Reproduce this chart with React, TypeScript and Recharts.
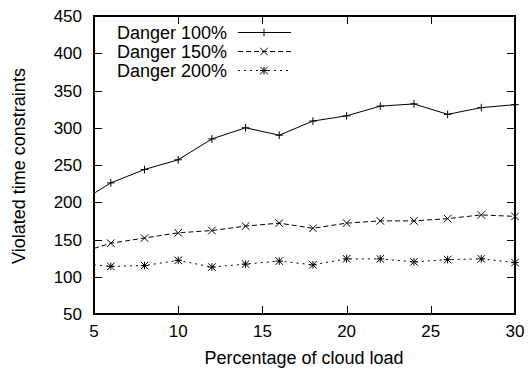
import { LineChart, Line, XAxis, YAxis } from 'recharts';

const loads = [5, 6, 8, 10, 12, 14, 16, 18, 20, 22, 24, 26, 28, 30];
const danger100 = [212, 226, 244, 257, 285, 300, 290, 309, 316, 329, 332, 318, 327, 331];
const danger150 = [138, 145, 152, 159, 162, 168, 172, 165, 172, 175, 175, 178, 183, 181];
const danger200 = [116, 114, 115, 122, 113, 117, 121, 116, 124, 124, 120, 123, 124, 119];

const xTicks = [5, 10, 15, 20, 25, 30];
const yTicks = [50, 100, 150, 200, 250, 300, 350, 400, 450];

const seriesNames = ['Danger 100%', 'Danger 150%', 'Danger 200%'];
const xTitle = 'Percentage of cloud load';
const yTitle = 'Violated time constraints';

const data = loads.map((x, i) => ({
  x,
  d100: danger100[i],
  d150: danger150[i],
  d200: danger200[i],
}));

const X_MIN = 5, X_MAX = 30, Y_MIN = 50, Y_MAX = 450;

// plot box (shared by chart margins and the frame overlay)
const W = 528, H = 370;
const PL = 94, PR = 515, PT = 16, PB = 314;
const TICK = 8;

const FONT = '"Liberation Sans", Arial, Helvetica, sans-serif';
const S = 3.8;

function markerPath(shape: string, cx: number, cy: number) {
  const plus = `M${cx - S},${cy}H${cx + S}M${cx},${cy - S}V${cy + S}`;
  const cross = `M${cx - S},${cy - S}L${cx + S},${cy + S}M${cx - S},${cy + S}L${cx + S},${cy - S}`;
  if (shape === 'plus') return plus;
  if (shape === 'cross') return cross;
  return plus + cross;
}

const makeDot = (shape: string) => (props: any) => {
  const { cx, cy, index, payload } = props;
  if (payload.x === X_MIN || cx == null || cy == null) return <g key={`${shape}-${index}`} />;
  return (
    <path key={`${shape}-${index}`} d={markerPath(shape, cx, cy)} stroke="#000" strokeWidth={1} fill="none" />
  );
};

const styles = [
  { shape: 'plus', dash: undefined as string | undefined },
  { shape: 'cross', dash: '5 3' },
  { shape: 'star', dash: '2 4' },
];

const sx = (v: number) => PL + ((v - X_MIN) / (X_MAX - X_MIN)) * (PR - PL);
const sy = (v: number) => PB - ((v - Y_MIN) / (Y_MAX - Y_MIN)) * (PB - PT);

function Overlay() {
  const baselines = [39, 58, 77];
  const frame = [
    [PL, PT, PR, PT],
    [PR, PT, PR, PB],
    [PL, PB, PR, PB],
    [PL, PT, PL, PB],
  ];
  const tickSegs: number[][] = [];
  xTicks.slice(1, -1).forEach(t => {
    const x = Math.round(sx(t)) + 0.5;
    tickSegs.push([x, PB, x, PB - TICK], [x, PT, x, PT + TICK]);
  });
  yTicks.slice(1, -1).forEach(t => {
    const y = Math.round(sy(t)) + 0.5;
    tickSegs.push([PL, y, PL + TICK, y], [PR, y, PR - TICK, y]);
  });
  return (
    <svg width={W} height={H} style={{ position: 'absolute', left: 0, top: 0, pointerEvents: 'none' }}>
      {frame.map(([x1, y1, x2, y2], i) => (
        <line key={`f${i}`} x1={x1} y1={y1} x2={x2} y2={y2} stroke="#000" strokeWidth={2} strokeLinecap="square" />
      ))}
      {tickSegs.map(([x1, y1, x2, y2], i) => (
        <line key={`t${i}`} x1={x1} y1={y1} x2={x2} y2={y2} stroke="#000" strokeWidth={1} />
      ))}
      <text x={304} y={364} textAnchor="middle" fontSize={18} fontFamily={FONT} fill="#000">
        {xTitle}
      </text>
      <text transform="translate(25,166) rotate(-90)" textAnchor="middle" fontSize={18} fontFamily={FONT} fill="#000">
        {yTitle}
      </text>
      {seriesNames.map((name, i) => {
        const y = baselines[i] - 6.5;
        return (
          <g key={name}>
            <text x={227} y={baselines[i]} textAnchor="end" fontSize={18} fontFamily={FONT} fill="#000">
              {name}
            </text>
            <line x1={238} x2={291} y1={y} y2={y} stroke="#000" strokeWidth={1} strokeDasharray={styles[i].dash} />
            <path d={markerPath(styles[i].shape, 264, y)} stroke="#000" strokeWidth={1} fill="none" />
          </g>
        );
      })}
    </svg>
  );
}

export default function App() {
  const tickStyle = { fill: '#000', fontSize: 17, fontFamily: FONT };
  return (
    <div style={{ position: 'fixed', left: 0, top: 0, width: W, height: H, background: '#fff' }}>
      <LineChart width={W} height={H} data={data} margin={{ top: PT, right: W - PR, bottom: 0, left: 0 }}>
        <XAxis
          dataKey="x"
          type="number"
          domain={[X_MIN, X_MAX]}
          ticks={xTicks}
          height={H - PB}
          tickSize={0}
          tickMargin={11}
          stroke="#000"
          tickLine={false}
          tick={tickStyle}
        />
        <YAxis
          type="number"
          domain={[Y_MIN, Y_MAX]}
          ticks={yTicks}
          width={PL}
          tickSize={0}
          tickMargin={12}
          stroke="#000"
          tickLine={false}
          tick={tickStyle}
        />
        <Line dataKey="d100" name={seriesNames[0]} stroke="#000" strokeWidth={1} dot={makeDot('plus')} isAnimationActive={false} />
        <Line dataKey="d150" name={seriesNames[1]} stroke="#000" strokeWidth={1} strokeDasharray="5 3" dot={makeDot('cross')} isAnimationActive={false} />
        <Line dataKey="d200" name={seriesNames[2]} stroke="#000" strokeWidth={1} strokeDasharray="2 4" dot={makeDot('star')} isAnimationActive={false} />
      </LineChart>
      <Overlay />
    </div>
  );
}
